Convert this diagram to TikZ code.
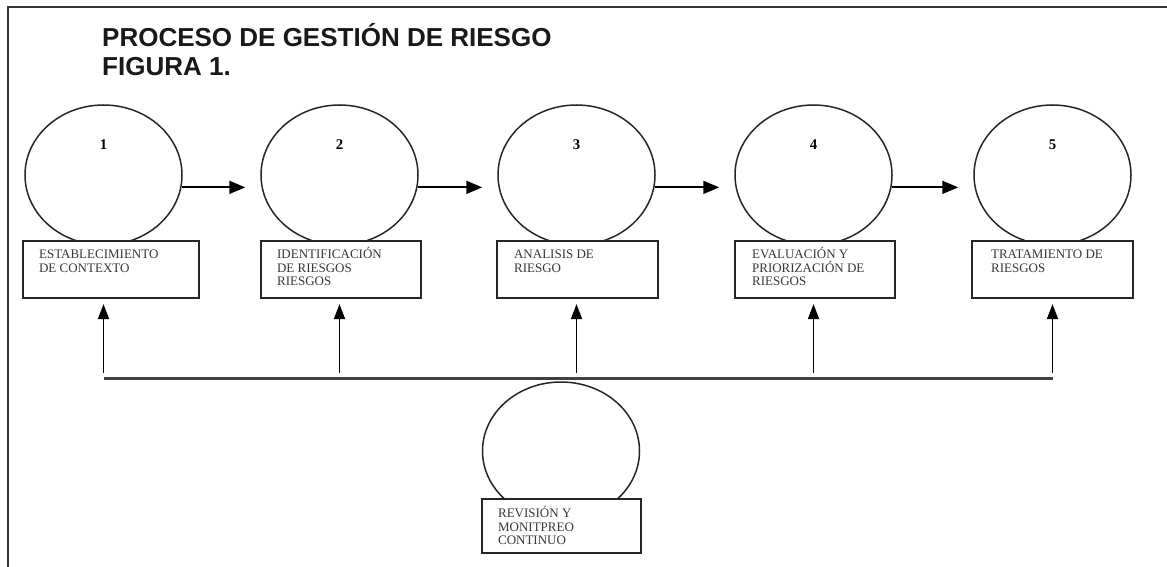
\documentclass[tikz,border=0pt]{standalone}
\usepackage{fontspec}
\setmainfont{Liberation Serif}
\newfontfamily\titlefont{Liberation Sans}
\usetikzlibrary{arrows.meta,shapes.geometric}
\begin{document}
\begin{tikzpicture}[x=1pt,y=-1pt,
  oval/.style={ellipse, draw=black!85, line width=1.5pt, minimum width=157pt, minimum height=140pt, inner sep=0pt},
  stagebox/.style={draw=black!85, line width=2.2pt, fill=white, inner sep=0pt, minimum height=57pt},
  boxtext/.style={anchor=base west, inner sep=0pt, text=black!78, font=\fontsize{13}{13.5}\selectfont},
  num/.style={font=\bfseries\fontsize{14.8}{16}\selectfont, inner sep=0pt},
  harrow/.style={draw=black, line width=1.8pt, -{Triangle[length=16pt,width=13pt]}},
  varrow/.style={draw=black, line width=1.8pt, -{Triangle[length=15pt,width=11pt]}, shorten <=5pt, shorten >=5pt},
  bus/.style={draw=black!75, line width=3pt},
  frame/.style={draw=black!80, line width=2pt},
  titletext/.style={anchor=base west, inner sep=0pt, font=\titlefont\bfseries\fontsize{26}{30}\selectfont, text=black!90}]
\useasboundingbox (0,0) rectangle (1167,567);
\draw[frame] (8,567) -- (8,7) -- (1167,7);

\node[titletext] (t1) at (102,46.5) {PROCESO DE GESTIÓN DE RIESGO};
\node[titletext] (t2) at (102,76) {FIGURA 1.};

% ovals
\node[oval] (c1) at (103.5,175) {};
\node[oval] (c2) at (339.5,175) {};
\node[oval] (c3) at (576.5,175) {};
\node[oval] (c4) at (813.5,175) {};
\node[oval] (c5) at (1052.5,175) {};

\node[num] (n1) at ([yshift=-40pt]c1.north) {1};
\node[num] (n2) at ([yshift=-40pt]c2.north) {2};
\node[num] (n3) at ([yshift=-40pt]c3.north) {3};
\node[num] (n4) at ([yshift=-40pt]c4.north) {4};
\node[num] (n5) at ([yshift=-40pt]c5.north) {5};

% boxes
\node[stagebox, minimum width=176pt] (b1) at (111,269.5) {};
\node[stagebox, minimum width=160pt] (b2) at (341,269.5) {};
\node[stagebox, minimum width=161pt] (b3) at (577.5,269.5) {};
\node[stagebox, minimum width=160pt] (b4) at (815,269.5) {};
\node[stagebox, minimum width=161pt] (b5) at (1052.5,269.5) {};

\node[boxtext] (x1) at ([xshift=17pt,yshift=-19pt]b1.north west) {\parbox[t]{150pt}{\raggedright ESTABLECIMIENTO\\DE CONTEXTO}};
\node[boxtext] (x2) at ([xshift=17pt,yshift=-19pt]b2.north west) {\parbox[t]{140pt}{\raggedright IDENTIFICACIÓN\\DE RIESGOS\\RIESGOS}};
\node[boxtext] (x3) at ([xshift=18pt,yshift=-19pt]b3.north west) {\parbox[t]{140pt}{\raggedright ANALISIS DE\\RIESGO}};
\node[boxtext] (x4) at ([xshift=18pt,yshift=-19pt]b4.north west) {\parbox[t]{140pt}{\raggedright EVALUACIÓN Y\\PRIORIZACIÓN DE\\RIESGOS}};
\node[boxtext] (x5) at ([xshift=20pt,yshift=-19pt]b5.north west) {\parbox[t]{140pt}{\raggedright TRATAMIENTO DE\\RIESGOS}};

% horizontal arrows
\draw[harrow, shorten >=15pt] (c1.-9) -- (c1.-9 -| c2.west);
\draw[harrow, shorten >=15pt] (c2.-9) -- (c2.-9 -| c3.west);
\draw[harrow, shorten >=15pt] (c3.-9) -- (c3.-9 -| c4.west);
\draw[harrow, shorten >=15pt] (c4.-9) -- (c4.-9 -| c5.west);

% bus and vertical arrows
\coordinate (busy) at (0,378);
\draw[bus] (c1 |- busy) -- (c5 |- busy);
\draw[varrow] (c1 |- busy) -- (c1 |- b1.south);
\draw[varrow] (c2 |- busy) -- (c2 |- b2.south);
\draw[varrow] (c3 |- busy) -- (c3 |- b3.south);
\draw[varrow] (c4 |- busy) -- (c4 |- b4.south);
\draw[varrow] (c5 |- busy) -- (c5 |- b5.south);

% bottom
\node[oval, minimum height=138pt] (c6) at (561,451) {};
\node[stagebox, minimum width=159pt, minimum height=54pt] (b6) at (561.5,526) {};
\node[boxtext] (x6) at ([xshift=17pt,yshift=-20pt]b6.north west) {\parbox[t]{140pt}{\raggedright REVISIÓN Y\\MONITPREO\\CONTINUO}};
\end{tikzpicture}
\end{document}
